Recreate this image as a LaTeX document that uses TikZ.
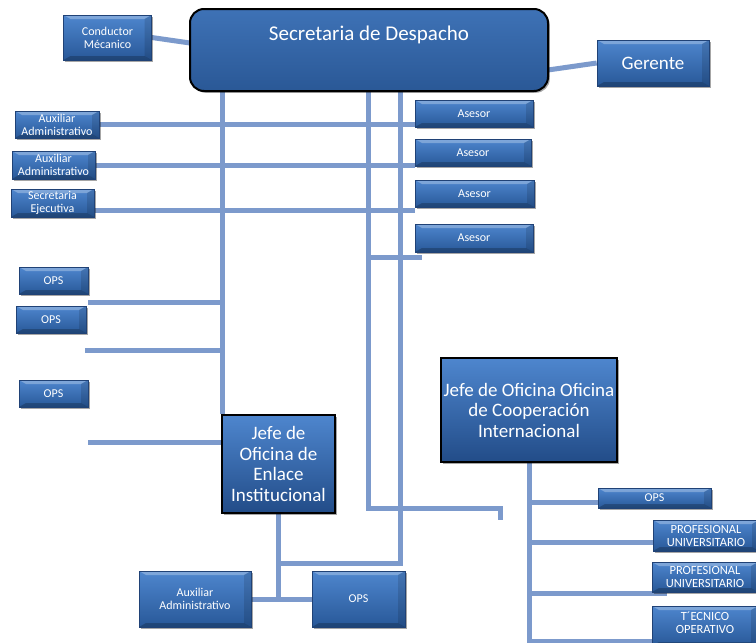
\documentclass[tikz,border=0pt]{standalone}
\usepackage{fontspec}
\setmainfont{Carlito}
\usetikzlibrary{shadows,backgrounds}
\definecolor{linec}{RGB}{124,154,204}
\definecolor{btop}{RGB}{78,134,206}
\definecolor{bbot}{RGB}{40,88,152}
\definecolor{bedge}{RGB}{32,66,118}
\tikzset{
  conn/.style={draw=linec, line width=5pt},
  shad/.style={drop shadow={shadow xshift=1.8pt, shadow yshift=-1.8pt, opacity=.35, fill=black}},
  sbox/.style={rectangle, inner sep=0pt, align=center, text=white,
    top color=btop, bottom color=bbot, draw=bedge, line width=0.6pt, shad,
    font=\fontsize{12}{13}\selectfont,
    path picture={
      \fill[white,opacity=.28] (path picture bounding box.north west) -- (path picture bounding box.north east)
        -- ([xshift=-7pt,yshift=-4pt]path picture bounding box.north east) -- ([xshift=7pt,yshift=-4pt]path picture bounding box.north west) -- cycle;
      \fill[black,opacity=.22] (path picture bounding box.south west) -- (path picture bounding box.south east)
        -- ([xshift=-7pt,yshift=4pt]path picture bounding box.south east) -- ([xshift=7pt,yshift=4pt]path picture bounding box.south west) -- cycle;
      \fill[black,opacity=.12] (path picture bounding box.north east) -- (path picture bounding box.south east)
        -- ([xshift=-7pt,yshift=4pt]path picture bounding box.south east) -- ([xshift=-7pt,yshift=-4pt]path picture bounding box.north east) -- cycle;
    }},
  jbox/.style={rectangle, inner sep=0pt, align=center, text=white,
    top color=btop, bottom color={rgb,255:red,34;green,76;blue,136}, draw=black, line width=2.5pt, shad,
    font=\fontsize{19}{20.5}\selectfont},
  topbox/.style={rectangle, rounded corners=14pt, inner sep=0pt, text=white,
    top color={rgb,255:red,62;green,114;blue,182}, bottom color={rgb,255:red,42;green,88;blue,150},
    draw=black, line width=2pt, shad, font=\fontsize{21}{24}\selectfont}
}
\begin{document}
\begin{tikzpicture}[x=1pt,y=-1pt]
\useasboundingbox (0,0) rectangle (756,643);

% top
\node[topbox, minimum width=358pt, minimum height=82pt, text height=31pt, text depth=51pt] (sec) at (369,50) {Secretaria de Despacho};
\node[sbox, minimum width=88pt, minimum height=45pt] (cond) at (107.5,37.5) {Conductor\\Mécanico};
\node[sbox, minimum width=112pt, minimum height=46pt, font=\fontsize{19}{21}\selectfont] (ger) at (653,63) {Gerente};

% left column
\node[sbox, minimum width=84pt, minimum height=27pt] (aux1) at (57,124.5) {Auxiliar\\Administrativo};
\node[sbox, minimum width=83pt, minimum height=28pt] (aux2) at (53.5,165) {Auxiliar\\Administrativo};
\node[sbox, minimum width=83pt, minimum height=28pt] (secej) at (52.5,203) {Secretaria\\Ejecutiva};

% asesores
\node[sbox, minimum width=118pt, minimum height=27pt] (as1) at (474,113.5) {Asesor};
\node[sbox, minimum width=116pt, minimum height=27pt] (as2) at (473,152.5) {Asesor};
\node[sbox, minimum width=119pt, minimum height=27pt] (as3) at (474.5,193.5) {Asesor};
\node[sbox, minimum width=118pt, minimum height=28pt] (as4) at (474,238) {Asesor};

% OPS left
\node[sbox, minimum width=69pt, minimum height=27pt] (ops1) at (53.5,280.5) {OPS};
\node[sbox, minimum width=70pt, minimum height=27pt] (ops2) at (51,319.5) {OPS};
\node[sbox, minimum width=69pt, minimum height=27pt] (ops3) at (53.5,393.5) {OPS};

% Jefe enlace
\node[jbox, minimum width=113pt, minimum height=98pt] (jefeE) at (278.5,464) {Jefe de\\Oficina de\\Enlace\\Institucional};
\node[sbox, minimum width=112pt, minimum height=56pt] (auxB) at (195,599) {Auxiliar\\Administrativo};
\node[sbox, minimum width=93pt, minimum height=56pt] (opsB) at (358.5,599) {OPS};

% Jefe cooperacion
\node[jbox, minimum width=176pt, minimum height=104pt] (coop) at (529,410) {Jefe de Oficina Oficina\\de Cooperación\\Internacional};
\node[sbox, minimum width=113pt, minimum height=20pt] (opsC) at (654.5,498) {OPS};
\node[sbox, minimum width=106pt, minimum height=31pt, font=\fontsize{12.5}{13}\selectfont] (prof1) at (706,535.5) {PROFESIONAL\\UNIVERSITARIO};
\node[sbox, minimum width=106pt, minimum height=30pt, font=\fontsize{12.5}{13}\selectfont] (prof2) at (705,577) {PROFESIONAL\\UNIVERSITARIO};
\node[sbox, minimum width=106pt, minimum height=40pt, font=\fontsize{12.5}{13}\selectfont, text depth=6pt] (tec) at (705,626) {T´ECNICO\\OPERATIVO};

% junction coordinates
\coordinate (secL) at (190,43);
\coordinate (secR) at (548,70);
\coordinate (vAt) at (222,91);
\coordinate (vBt) at (368,91);
\coordinate (vBb) at (368,508);
\coordinate (vBe) at (500,520);
\coordinate (vCt) at (400,91);
\coordinate (vCb) at (400,563);
\coordinate (s3) at (94,210);
\coordinate (a4) at (422,257);
\coordinate (o1) at (88,302);
\coordinate (o2) at (85,350);
\coordinate (o3) at (88,442);
\coordinate (cb) at (529,643);
\coordinate (c1) at (598,502);
\coordinate (c2) at (653,542);
\coordinate (c3) at (667,593);
\coordinate (c4) at (653,641);

\begin{scope}[on background layer]
\fill[white] (0,0) rectangle (756,643);
\draw[conn] (cond.east) -- (secL);
\draw[conn] (ger.west) -- (secR);
\draw[conn] (vAt) -- (vAt |- jefeE.north);
\draw[conn] (vBt) -- (vBb) -| (vBe);
\draw[conn] (vCt) -- (vCb) -- (vCb -| jefeE.south);
\draw[conn] (jefeE.south) -- (jefeE.south |- auxB.east);
\draw[conn] (auxB.east) -- (opsB.west);
\draw[conn] (aux1.east) -- (aux1.east -| as1.west);
\draw[conn] (aux2.east) -- (aux2.east -| as2.west);
\draw[conn] (s3) -- (s3 -| as3.west);
\draw[conn] (a4 -| vBt) -- (a4);
\draw[conn] (o1) -- (o1 -| vAt);
\draw[conn] (o2) -- (o2 -| vAt);
\draw[conn] (o3) -- (o3 -| jefeE.west);
\draw[conn] (coop.south) -- (cb);
\draw[conn] (c1 -| coop.south) -- (c1);
\draw[conn] (c2 -| coop.south) -- (c2);
\draw[conn] (c3 -| coop.south) -- (c3);
\draw[conn] (c4 -| coop.south) -- (c4);
\end{scope}
\end{tikzpicture}
\end{document}
